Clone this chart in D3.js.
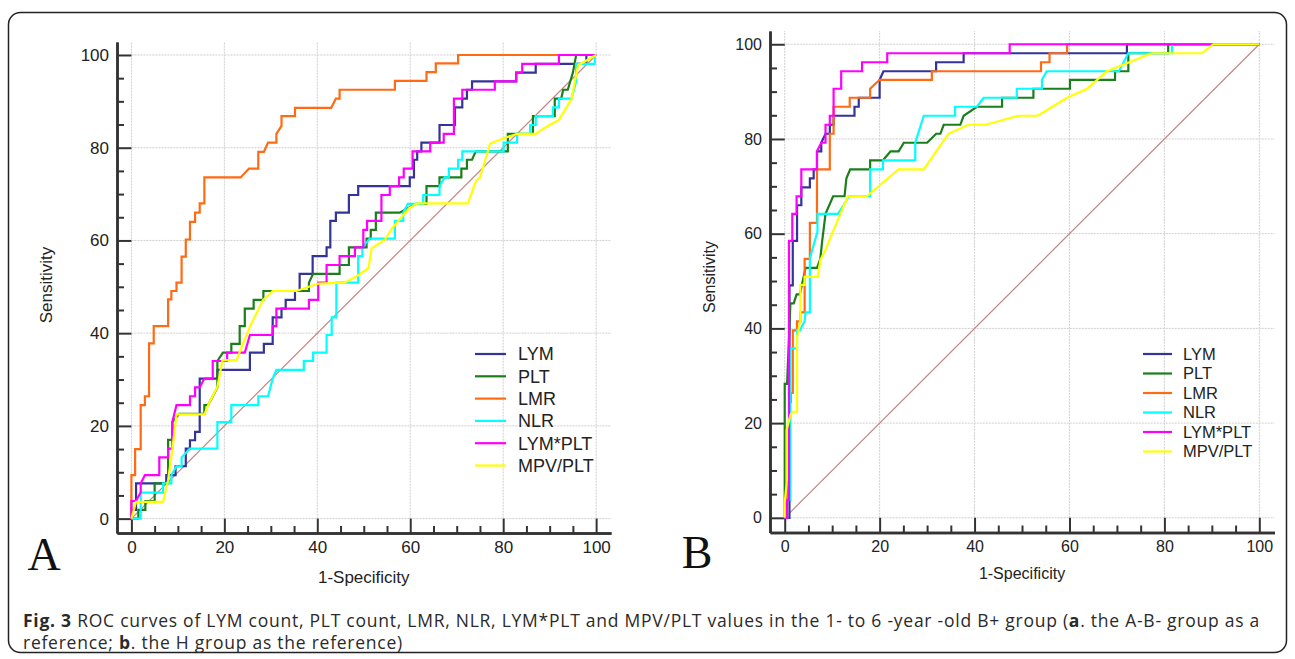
<!DOCTYPE html>
<html>
<head>
<meta charset="utf-8">
<script src="https://cdn.jsdelivr.net/npm/d3@7"></script>
<style>
  body { margin: 0; background: #fff; }
  svg { display: block; }
</style>
</head>
<body>
<div id="my_dataviz"></div>
<script>
// series names and ROC points [1-specificity, sensitivity]
var seriesNames = ["LYM", "PLT", "LMR", "NLR", "LYM*PLT", "MPV/PLT"];
var seriesColors = ["#333399", "#1a7f1a", "#ff6a13", "#00ffff", "#ff00ff", "#ffff00"];
var majorTicks = [0, 20, 40, 60, 80, 100];
var minorTicks = [5, 10, 15, 25, 30, 35, 45, 50, 55, 65, 70, 75, 85, 90, 95];
var diagonal = [[0, 0], [100, 100]];

// panel A
var lymA = [[0,0],[0,1.9],[1,1.9],[1,7.6],[2.5,7.6],[7.5,7.6],[7.5,9.4],[9.5,9.4],[9.5,11.3],[11.7,11.3],[11.7,15.1],[12.6,15.1],[12.6,16.9],[13.7,16.9],[13.7,18.7],[14.7,18.7],[14.7,30.2],[18.5,30.2],[18.5,32.1],[25.5,32.1],[25.5,35.8],[28.5,35.8],[28.5,37.7],[30.4,37.7],[30.4,43.4],[32.3,43.4],[32.3,45.3],[33.2,45.3],[33.2,47.2],[35.2,47.2],[35.2,49.1],[36.2,49.1],[36.2,52.8],[39,52.8],[39,56.6],[42,56.6],[42,58.5],[42.8,58.5],[42.8,64.2],[44,64.2],[44,66],[46.8,66],[46.8,69.8],[48.8,69.8],[48.8,71.7],[59.9,71.7],[59.9,73.6],[60.8,73.6],[60.8,77.4],[61.5,77.4],[61.5,79.2],[62.4,79.2],[62.4,81.1],[66.3,81.1],[66.3,84.9],[69.6,84.9],[69.6,88.7],[71.2,88.7],[71.2,90.6],[72.2,90.6],[72.2,92.5],[73.3,92.5],[73.3,94.3],[82.8,94.3],[82.8,96.2],[87,96.2],[87,98.1],[97.9,98.1],[97.9,100],[100,100]];
var pltA = [[0,0],[1.5,0],[1.5,1.9],[3,1.9],[3,3.8],[5,3.8],[5,7.6],[7.9,7.6],[7.9,17],[8.8,17],[8.8,20.8],[10.3,22.6],[15.7,22.6],[15.7,24.5],[16.5,24.5],[18.5,28.3],[18.5,34],[19.7,35.8],[21.5,35.8],[21.5,37.7],[23.3,37.7],[23.3,41.5],[24.4,41.5],[24.4,45.3],[26.3,45.3],[26.3,47.2],[28.4,47.2],[28.4,49.1],[38.2,49.1],[38.2,50.9],[39.1,52.8],[44.8,52.8],[44.8,54.7],[46.8,54.7],[46.8,58.5],[50.6,58.5],[50.6,60.4],[51.5,60.4],[51.5,62.3],[52.6,62.3],[52.6,66],[57.7,66],[61.3,67.9],[63.5,67.9],[63.5,71.7],[66.3,71.7],[66.3,73.6],[71,73.6],[71,75.5],[72.2,75.5],[72.2,77.4],[73.3,77.4],[74.1,79.2],[81,79.2],[81,83],[86.4,83],[86.4,86.8],[91.1,86.8],[91.1,90.6],[92.5,90.6],[92.9,92.5],[93.9,92.5],[95,96.2],[95.7,100],[100,100]];
var lmrA = [[0,0],[0,9.4],[0.8,9.4],[0.8,15],[2,15],[2,24.5],[2.9,24.5],[2.9,26.4],[3.8,26.4],[3.8,37.8],[4.8,37.8],[4.8,41.5],[7.9,41.5],[7.9,47.3],[8.6,47.3],[8.6,49.1],[9.7,49.1],[9.7,50.9],[10.8,50.9],[10.8,56.5],[11.7,56.5],[11.7,60.2],[12.6,60.2],[12.6,64],[13.7,64],[13.7,66],[14.7,66],[14.7,68],[15.7,68],[15.7,73.6],[23.5,73.6],[25.3,75.5],[27.3,75.5],[27.3,79.1],[28.5,79.1],[29.4,81.1],[31.2,81.1],[31.2,83],[32.3,84.7],[32.3,86.8],[35.2,86.8],[35.2,88.6],[43,88.6],[44,90.6],[44.8,90.6],[44.8,92.5],[56.7,92.5],[56.7,94.4],[63.5,94.4],[63.5,96.3],[65.5,96.3],[65.5,98.2],[70.3,98.2],[70.3,100],[100,100]];
var nlrA = [[0,0],[2,0],[2,5.6],[6.8,5.6],[6.8,7.6],[8.6,7.6],[8.6,9.4],[9.7,11.3],[10.8,11.3],[10.8,13.2],[12.6,15.1],[18.5,15.1],[18.5,20.8],[21.5,20.8],[21.5,24.5],[27.3,24.5],[27.3,26.4],[29.4,26.4],[30.4,30.2],[31.2,32.1],[37.1,32.1],[37.1,34],[39.1,34],[39.1,35.8],[42,35.8],[42,39.6],[43.1,39.6],[43.1,43.4],[44.1,43.4],[44.1,50.9],[48.8,50.9],[48.8,56.6],[49.7,56.6],[49.7,58.5],[51.3,60.4],[56.7,60.4],[56.7,64.2],[58.5,64.2],[58.5,66],[59.5,67.9],[62.8,67.9],[62.8,69.8],[66.3,69.8],[66.3,71.7],[67.4,73.6],[68.3,73.6],[68.3,75.5],[70.3,75.5],[70.3,77.4],[71.2,77.4],[71.2,79.2],[80.1,79.2],[80.1,81.1],[83,81.1],[83,83],[85.8,83],[85.8,84.9],[87,84.9],[87,86.8],[90.7,86.8],[90.7,88.7],[92,88.7],[92,90.6],[94.7,90.6],[95.7,94.3],[95.7,98.1],[99.7,98.1],[99.7,100],[100,100]];
var lymPltA = [[0,0],[0,3.8],[1,3.8],[2,5.7],[2,7.6],[2.9,9.4],[6,9.4],[6,13.2],[7.9,13.2],[7.9,15.1],[8.8,15.1],[8.8,20.8],[9.7,24.5],[12.6,24.5],[12.6,26.4],[13.7,26.4],[13.7,28.3],[14.7,28.3],[15.7,30.2],[17.5,30.2],[17.5,34],[20.6,34],[20.6,35.8],[24.4,35.8],[25.5,39.6],[30.4,39.6],[30.4,41.5],[31.2,41.5],[31.2,45.3],[38.2,45.3],[38.2,47.2],[40.2,47.2],[40.2,50.9],[42,50.9],[42,54.7],[44.8,54.7],[44.8,56.6],[48.1,56.6],[48.1,58.5],[49.9,58.5],[49.9,62.3],[50.7,62.3],[50.7,64.2],[53.8,64.2],[53.8,69.8],[55.6,69.8],[55.6,71.7],[57.6,71.7],[57.6,73.6],[58.6,73.6],[58.6,75.5],[60.5,75.5],[60.5,79.2],[64.3,79.2],[64.3,81.1],[67.2,81.1],[67.2,83],[69.4,83],[69.4,90.6],[71.2,90.6],[71.2,92.5],[78.2,92.5],[78.2,94.3],[82.8,94.3],[82.8,96.2],[84.1,96.2],[84.1,98.1],[92,98.1],[92,100],[100,100]];
var mpvPltA = [[0,0],[1,3.6],[6.8,3.6],[7.9,8.3],[8.8,14.8],[9.7,22.5],[15.7,22.5],[16.7,24.9],[18.5,28.4],[19.6,34.2],[22.6,34.2],[25.5,41.4],[28.3,47.1],[30.4,49.1],[35.5,49.1],[40.2,50.7],[45.9,50.9],[48.8,52.5],[51,54],[51.7,58.3],[54.5,60.1],[56,62.5],[59.7,66.9],[61.5,68],[72.4,68],[74.2,73],[75,73.5],[77.2,80.9],[80,82],[83,83],[87,83],[88.5,84],[90,84.9],[92,86],[94.7,90.5],[96.1,97.8],[100,100]];

// panel B
var lymB = [[0,0],[1,0],[1,1.9],[1,49.1],[1.7,49.1],[1.7,58.5],[2.6,58.5],[2.6,66],[3.5,66],[3.5,69.8],[5.3,69.8],[5.3,71.7],[6.1,71.7],[6.1,73.6],[6.8,73.6],[6.8,77.4],[7.7,77.4],[7.7,79.2],[8.6,81.1],[9.5,81.1],[9.5,83],[10.3,83],[10.3,84.9],[14.7,84.9],[14.7,86.8],[15.6,86.8],[15.6,88.7],[20,88.7],[20,92.5],[20.8,94.3],[31.9,94.3],[31.9,96.2],[37.7,96.2],[37.7,98.1],[72.1,98.1],[72.1,100],[100,100]];
var pltB = [[0,0],[0,28.3],[0.5,28.3],[1.2,45.3],[1.9,45.3],[2.5,47.2],[3.2,47.2],[4.4,52.8],[6.8,52.8],[7.5,54.7],[7.9,58.5],[8.6,64.2],[10.2,67.9],[12.6,67.9],[13,71.7],[13.8,73.6],[18,73.6],[18,75.5],[20.7,75.5],[22.3,77.4],[24,77.4],[25.1,79.2],[30,79.2],[31.9,81.1],[32.8,81.1],[33.5,83],[37,83],[37.7,84.9],[40.5,86.8],[45.8,86.8],[45.8,88.7],[52.4,88.7],[52.4,90.6],[60.1,90.6],[60.1,92.5],[69.6,92.5],[69.6,94.3],[72.4,94.3],[72.4,98.1],[80.8,98.1],[80.8,100],[100,100]];
var lmrB = [[0,0],[0.5,0],[0.5,7.5],[1,7.5],[1,24.5],[1.3,24.5],[1.3,26.4],[1.7,26.4],[1.7,39.6],[2.6,39.6],[2.6,41.5],[3.3,41.5],[3.3,43.4],[4.2,43.4],[4.2,54.7],[5.3,54.7],[5.3,62.3],[6.8,62.3],[6.8,73.6],[9.5,73.6],[9.5,81.1],[10.3,81.1],[10.3,86.8],[13.7,86.8],[13.7,88.7],[18,88.7],[18,90.6],[20,92.5],[31,92.5],[31,94.3],[54,94.3],[54,96.2],[55.8,96.2],[55.8,98.1],[59.5,98.1],[59.5,100],[100,100]];
var nlrB = [[0,0],[0.5,0],[0.5,3.8],[1.2,3.8],[1.2,35.8],[2.6,35.8],[2.6,39.6],[3.2,39.6],[4.2,41.5],[4.4,43.4],[5.3,43.4],[5.3,54.7],[5.8,56.6],[6.9,60.4],[6.9,64.2],[11.2,64.2],[12.4,66],[13.5,67.9],[18,67.9],[18,73.6],[20.7,73.6],[20.7,75.5],[27.5,75.5],[27.5,79.2],[29.3,84.9],[35.9,84.9],[35.9,86.8],[40.5,86.8],[41.9,88.7],[48.9,88.7],[48.9,90.6],[54.2,90.6],[54.2,92.5],[55.2,94.3],[70.4,94.3],[71.4,96.2],[72.4,98.1],[81.6,98.1],[81.6,100],[100,100]];
var lymPltB = [[0,0],[0.5,0],[0.5,3.8],[0.9,3.8],[0.9,58.5],[1.6,58.5],[1.6,64.2],[2.5,64.2],[2.5,67.9],[3.5,67.9],[3.5,73.6],[6.8,73.6],[6.8,77.4],[7.7,79.2],[8.6,79.2],[8.6,83],[9.5,83],[9.5,84.9],[10.3,84.9],[10.3,90.6],[11.9,90.6],[11.9,94.3],[16.3,94.3],[16.3,96.2],[21.6,96.2],[21.6,98.1],[47.4,98.1],[47.4,100],[100,100]];
var mpvPltB = [[0,0],[0,3.1],[0.4,7.3],[0.4,18.5],[1.2,21.7],[1.7,22.4],[2.6,22.4],[2.6,38.2],[3.3,41.8],[3.3,49.2],[4.2,49.2],[4.2,50.9],[7,50.9],[7.5,54.4],[8.6,56.6],[10.3,60.8],[13.3,67.9],[17.3,67.9],[24,73.6],[29.3,73.6],[34.5,81.1],[38.7,83],[42.3,83],[49.3,84.9],[53.3,84.9],[59.5,88.7],[63.7,90.6],[67.9,94.3],[77.3,98.1],[87.9,98.1],[90.3,100],[100,100]];

var width = 1295, height = 659;

var svg = d3.select("#my_dataviz")
    .append("svg")
    .attr("width", width)
    .attr("height", height)
    .style("font-family", "'Liberation Sans', Arial, sans-serif");

// outer frame
svg.append("rect")
    .attr("x", 8.5).attr("y", 12.5)
    .attr("width", 1278).attr("height", 640)
    .attr("rx", 12)
    .attr("fill", "none")
    .attr("stroke", "#222")
    .attr("stroke-width", 1.5);

function drawPanel(p, series) {
    var g = svg.append("g");

    var x = d3.scaleLinear().domain([-3.1, 103.2]).range([p.left, p.right]);
    var y = d3.scaleLinear().domain([-3.1, 102.8]).range([p.bottom, p.top]);
    var majLen = x(0) - x(-3.1);

    // grid
    g.append("g").selectAll("line").data(majorTicks).enter().append("line")
        .attr("x1", x(0)).attr("x2", p.right)
        .attr("y1", function (d) { return y(d); }).attr("y2", function (d) { return y(d); })
        .attr("stroke", "#cfcfcf").attr("stroke-dasharray", "2,1");
    g.append("g").selectAll("line").data(majorTicks).enter().append("line")
        .attr("y1", y(0)).attr("y2", p.top)
        .attr("x1", function (d) { return x(d); }).attr("x2", function (d) { return x(d); })
        .attr("stroke", "#cfcfcf").attr("stroke-dasharray", "2,1");

    // axes, ticks pointing into the plot
    var yAxis = g.append("g").attr("transform", "translate(" + p.left + ",0)")
        .call(d3.axisLeft(y).tickValues(majorTicks).tickSizeInner(-majLen).tickSizeOuter(0).tickPadding(8));
    var yMinor = g.append("g").attr("transform", "translate(" + p.left + ",0)")
        .call(d3.axisLeft(y).tickValues(minorTicks).tickSizeInner(-7).tickSizeOuter(0).tickFormat(""));
    var xAxis = g.append("g").attr("transform", "translate(0," + p.bottom + ")")
        .call(d3.axisBottom(x).tickValues(majorTicks).tickSizeInner(-majLen).tickSizeOuter(0).tickPadding(8));
    var xMinor = g.append("g").attr("transform", "translate(0," + p.bottom + ")")
        .call(d3.axisBottom(x).tickValues(minorTicks).tickSizeInner(-7).tickSizeOuter(0).tickFormat(""));

    [yAxis, yMinor, xAxis, xMinor].forEach(function (a) {
        a.select(".domain").attr("stroke", "#333").attr("stroke-width", 2.5);
        a.selectAll(".tick line").attr("stroke", "#333").attr("stroke-width", 2);
        a.selectAll("text")
            .attr("fill", "#222")
            .style("font-family", "'Liberation Sans', Arial, sans-serif")
            .style("font-size", p.tickFont + "px");
    });

    // reference diagonal
    var line = d3.line()
        .x(function (d) { return x(d[0]); })
        .y(function (d) { return y(d[1]); });

    g.append("path").datum(diagonal)
        .attr("d", line)
        .attr("fill", "none")
        .attr("stroke", "#c08787")
        .attr("stroke-width", 1.2);

    // ROC curves
    g.selectAll(".roc").data(series).enter().append("path")
        .attr("class", "roc")
        .attr("d", function (d) { return line(d); })
        .attr("fill", "none")
        .attr("stroke", function (d, i) { return seriesColors[i]; })
        .attr("stroke-width", 2.2)
        .attr("stroke-linejoin", "miter");

    // legend
    var leg = g.append("g").selectAll("g").data(seriesNames).enter().append("g")
        .attr("transform", function (d, i) { return "translate(" + p.legX + "," + (p.legY + i * p.legStep) + ")"; });
    leg.append("line")
        .attr("x1", 0).attr("x2", p.legLine)
        .attr("stroke", function (d, i) { return seriesColors[i]; })
        .attr("stroke-width", 2.2);
    leg.append("text")
        .attr("x", p.legLine + p.legGap)
        .attr("dy", "0.36em")
        .attr("fill", "#222")
        .style("font-size", p.legFont + "px")
        .text(function (d) { return d; });

    // axis titles
    g.append("text")
        .attr("x", (x(0) + x(100)) / 2)
        .attr("y", p.xTitleY)
        .attr("text-anchor", "middle")
        .attr("fill", "#222")
        .style("font-size", p.titleFont + "px")
        .text("1-Specificity");
    g.append("text")
        .attr("transform", "translate(" + p.yTitleX + "," + p.yTitleY + ")rotate(-90)")
        .attr("text-anchor", "middle")
        .attr("dy", "0.36em")
        .attr("fill", "#222")
        .style("font-size", p.titleFont + "px")
        .text("Sensitivity");

    // panel letter
    g.append("text")
        .attr("x", p.letterX).attr("y", p.letterY)
        .attr("text-anchor", "middle")
        .attr("fill", "#111")
        .style("font-family", "'Liberation Serif', 'Times New Roman', serif")
        .style("font-size", "46px")
        .text(p.letter);
}

drawPanel({ left: 117, right: 611, top: 42, bottom: 533, tickFont: 17, titleFont: 17,
            legX: 475, legY: 354, legStep: 22.3, legLine: 31, legGap: 12, legFont: 18,
            xTitleY: 583, yTitleX: 46, yTitleY: 285, letter: "A", letterX: 44, letterY: 570 },
    [lymA, pltA, lmrA, nlrA, lymPltA, mpvPltA]);

drawPanel({ left: 770, right: 1274.5, top: 31, bottom: 532.5, tickFont: 16, titleFont: 16,
            legX: 1143, legY: 354, legStep: 19.5, legLine: 29, legGap: 11, legFont: 16.5,
            xTitleY: 579, yTitleX: 709, yTitleY: 277, letter: "B", letterX: 697, letterY: 568 },
    [lymB, pltB, lmrB, nlrB, lymPltB, mpvPltB]);

// caption
var cap = svg.append("g")
    .style("font-family", "'Open Sans', 'Noto Sans', sans-serif")
    .style("font-size", "17.5px")
    .style("letter-spacing", "0.75px")
    .attr("fill", "#2a2a2a");
var cap1 = cap.append("text").attr("x", 23).attr("y", 627);
cap1.append("tspan").attr("font-weight", "bold").text("Fig. 3");
cap1.append("tspan").text(" ROC curves of LYM count, PLT count, LMR, NLR, LYM*PLT and MPV/PLT values in the 1- to 6 -year -old B+ group (");
cap1.append("tspan").attr("font-weight", "bold").text("a");
cap1.append("tspan").text(". the A-B- group as a");
var cap2 = cap.append("text").attr("x", 23).attr("y", 649);
cap2.append("tspan").text("reference; ");
cap2.append("tspan").attr("font-weight", "bold").text("b");
cap2.append("tspan").text(". the H group as the reference)");
</script>
</body>
</html>
